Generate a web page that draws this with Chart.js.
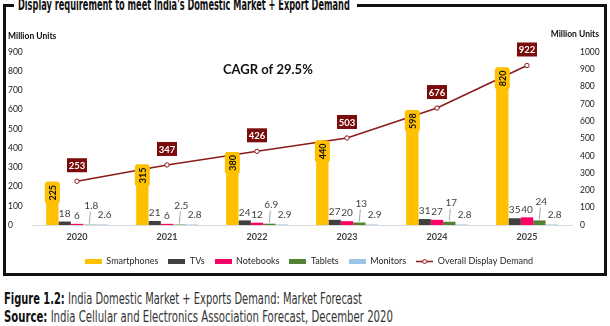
<!DOCTYPE html>
<html>
<head>
<meta charset="utf-8">
<script src="https://cdn.jsdelivr.net/npm/chart.js@4.4.0/dist/chart.umd.min.js"></script>
<style>
    body { margin: 0; width: 610px; height: 326px; background: #fff; overflow: hidden; position: relative; font-family: Lato, sans-serif; }
    #frame { position: absolute; left: 3px; top: 4px; width: 598px; height: 266px; border: 3px solid #111; }
    #titleGap { position: absolute; left: 14px; top: 0; width: 343px; height: 12px; background: #fff; }
    .cond { position: absolute; white-space: nowrap; font-family: "Liberation Sans Narrow", "DejaVu Sans Condensed", sans-serif; transform-origin: 0 0; }
    #title { left: 18px; top: -2px; font-size: 15px; line-height: 15px; font-weight: bold; color: #111; }
    #cap1 { left: 4px; top: 292px; font-size: 15px; line-height: 15px; color: #333; }
    #cap2 { left: 4px; top: 310px; font-size: 15px; line-height: 15px; color: #333; }
    .cond b { color: #111; }
    #chartBox { position: absolute; left: 0; top: 0; }
</style>
</head>
<body>
<div id="frame"></div>
<div id="titleGap"></div>
<div id="title" class="cond" data-w="332">Display requirement to meet India's Domestic Market + Export Demand</div>
<div id="chartBox"><canvas id="chart" width="610" height="276"></canvas></div>
<div id="cap1" class="cond" data-w="358"><b>Figure 1.2:</b> India Domestic Market + Exports Demand: Market Forecast</div>
<div id="cap2" class="cond" data-w="389"><b>Source:</b> India Cellular and Electronics Association Forecast, December 2020</div>

<script>
const years = ["2020", "2021", "2022", "2023", "2024", "2025"];
const smartphones = [225, 315, 380, 440, 598, 820];
const tvs = [18, 21, 24, 27, 31, 35];
const notebooks = [6, 6, 12, 20, 27, 40];
const tablets = [1.8, 2.5, 6.9, 13, 17, 24];
const monitors = [2.6, 2.8, 2.9, 2.9, 2.8, 2.8];
const overallDemand = [253, 347, 426, 503, 676, 922];

const leftMax = 900;
const rightMax = 1000;
const tickStep = 100;

const colors = {
    smartphones: "#FFC000",
    tvs: "#404040",
    notebooks: "#FF0066",
    tablets: "#548235",
    monitors: "#9DC3E6",
    line: "#8B1A1A",
    lineLabel: "#7B0C0C"
};

// squeeze condensed text to the reference width
document.querySelectorAll(".cond").forEach(el => {
    const target = +el.dataset.w;
    el.style.transform = "scaleX(" + (target / el.offsetWidth) + ")";
});

function swatch(color) {
    const c = document.createElement("canvas");
    c.width = 17; c.height = 5;
    const g = c.getContext("2d");
    g.fillStyle = color;
    g.fillRect(0, 0, 17, 5);
    return c;
}

function lineSwatch(color) {
    const c = document.createElement("canvas");
    c.width = 17; c.height = 7;
    const g = c.getContext("2d");
    g.strokeStyle = color;
    g.lineWidth = 1.5;
    g.beginPath(); g.moveTo(0, 3.5); g.lineTo(17, 3.5); g.stroke();
    g.fillStyle = "#fff";
    g.lineWidth = 1;
    g.beginPath(); g.arc(8.5, 3.5, 2, 0, Math.PI * 2); g.fill(); g.stroke();
    return c;
}

const legendIcons = [
    swatch(colors.smartphones), swatch(colors.tvs), swatch(colors.notebooks),
    swatch(colors.tablets), swatch(colors.monitors), lineSwatch(colors.line)
];

function roundRect(ctx, x, y, w, h, r) {
    ctx.beginPath();
    ctx.moveTo(x + r, y);
    ctx.arcTo(x + w, y, x + w, y + h, r);
    ctx.arcTo(x + w, y + h, x, y + h, r);
    ctx.arcTo(x, y + h, x, y, r);
    ctx.arcTo(x, y, x + w, y, r);
    ctx.closePath();
}

// data labels, boxes and free text
const labelPlugin = {
    id: "labels",
    afterDatasetsDraw(chart) {
        const ctx = chart.ctx;
        ctx.save();
        ctx.textAlign = "center";
        ctx.textBaseline = "middle";

        // smartphones: rotated label in a yellow box at the bar top
        chart.getDatasetMeta(0).data.forEach((bar, i) => {
            ctx.fillStyle = colors.smartphones;
            roundRect(ctx, bar.x - 7.5, bar.y, 15, 22, 3);
            ctx.fill();
            ctx.save();
            ctx.translate(bar.x, bar.y + 11);
            ctx.rotate(-Math.PI / 2);
            ctx.fillStyle = "#111";
            ctx.font = "bold 9px Lato";
            ctx.fillText(smartphones[i], 0, 0.5);
            ctx.restore();
        });

        ctx.font = "10px Lato";
        ctx.fillStyle = "#404040";
        chart.getDatasetMeta(1).data.forEach((bar, i) => ctx.fillText(tvs[i], bar.x, bar.y - 8));
        chart.getDatasetMeta(2).data.forEach((bar, i) => ctx.fillText(notebooks[i], bar.x, bar.y - 8));

        ctx.strokeStyle = "#a6a6a6";
        ctx.lineWidth = 1;
        chart.getDatasetMeta(3).data.forEach((bar, i) => {
            ctx.beginPath();
            ctx.moveTo(bar.x, bar.y - 1);
            ctx.lineTo(bar.x + 1, bar.y - 13);
            ctx.stroke();
            ctx.fillText(tablets[i], bar.x + 2, bar.y - 19);
        });
        chart.getDatasetMeta(4).data.forEach((bar, i) => ctx.fillText(monitors[i], bar.x + 3, bar.y - 10));

        // overall demand labels
        ctx.font = "bold 9.5px Lato";
        chart.getDatasetMeta(5).data.forEach((pt, i) => {
            ctx.fillStyle = colors.lineLabel;
            ctx.fillRect(pt.x - 10, pt.y - 23, 20, 14);
            ctx.fillStyle = "#fff";
            ctx.fillText(overallDemand[i], pt.x, pt.y - 15.5);
        });

        ctx.fillStyle = "#111";
        ctx.font = "bold 13px Lato";
        ctx.textAlign = "left";
        ctx.fillText("CAGR of 29.5%", 223, 70);

        ctx.font = "bold 8.5px Lato";
        ctx.fillText("Million Units", 8, 36);
        ctx.textAlign = "right";
        ctx.fillText("Million Units", 599, 34);
        ctx.restore();
    }
};

function barSet(label, data, color) {
    return { type: "bar", label: label, data: data, backgroundColor: color, borderWidth: 0, yAxisID: "y", order: 2 };
}

new Chart(document.getElementById("chart"), {
    data: {
        labels: years,
        datasets: [
            barSet("Smartphones", smartphones, colors.smartphones),
            barSet("TVs", tvs, colors.tvs),
            barSet("Notebooks", notebooks, colors.notebooks),
            barSet("Tablets", tablets, colors.tablets),
            barSet("Monitors", monitors, colors.monitors),
            {
                type: "line",
                label: "Overall Display Demand",
                data: overallDemand,
                borderColor: colors.line,
                borderWidth: 1.5,
                pointRadius: 2.2,
                pointBorderWidth: 1,
                pointBackgroundColor: "#fff",
                pointBorderColor: colors.line,
                yAxisID: "y1",
                order: 1
            }
        ]
    },
    options: {
        responsive: false,
        animation: false,
        layout: { padding: { left: 8, top: 52, right: 0, bottom: 0 } },
        datasets: { bar: { categoryPercentage: 0.685, barPercentage: 1 } },
        scales: {
            x: {
                grid: { display: false, drawTicks: false },
                border: { color: "#d9d9d9" },
                ticks: { padding: 7, color: "#404040", font: { family: "Lato", size: 9, weight: "bold" } },
                afterFit: s => { s.height = 22; }
            },
            y: {
                position: "left",
                min: 0, max: leftMax,
                grid: { display: false, drawTicks: false },
                border: { display: false },
                ticks: { stepSize: tickStep, crossAlign: "far", color: "#1a1a1a", font: { family: "Lato", size: 8.5 }, callback: v => v },
                afterFit: s => { s.width = 24; }
            },
            y1: {
                position: "right",
                min: 0, max: rightMax,
                grid: { display: false, drawTicks: false },
                border: { display: false },
                ticks: { stepSize: tickStep, padding: 8, color: "#1a1a1a", font: { family: "Lato", size: 8.5 }, callback: v => v },
                afterFit: s => { s.width = 38; }
            }
        },
        plugins: {
            tooltip: { enabled: false },
            legend: {
                position: "bottom",
                labels: {
                    usePointStyle: true,
                    pointStyleWidth: 17,
                    boxHeight: 5,
                    padding: 10,
                    color: "#262626",
                    font: { family: "Lato", size: 9 },
                    sort: (a, b) => a.datasetIndex - b.datasetIndex,
                    generateLabels(chart) {
                        const items = Chart.defaults.plugins.legend.labels.generateLabels(chart);
                        items.forEach(it => { it.pointStyle = legendIcons[it.datasetIndex]; });
                        return items;
                    }
                }
            }
        }
    },
    plugins: [labelPlugin]
});
</script>
</body>
</html>
